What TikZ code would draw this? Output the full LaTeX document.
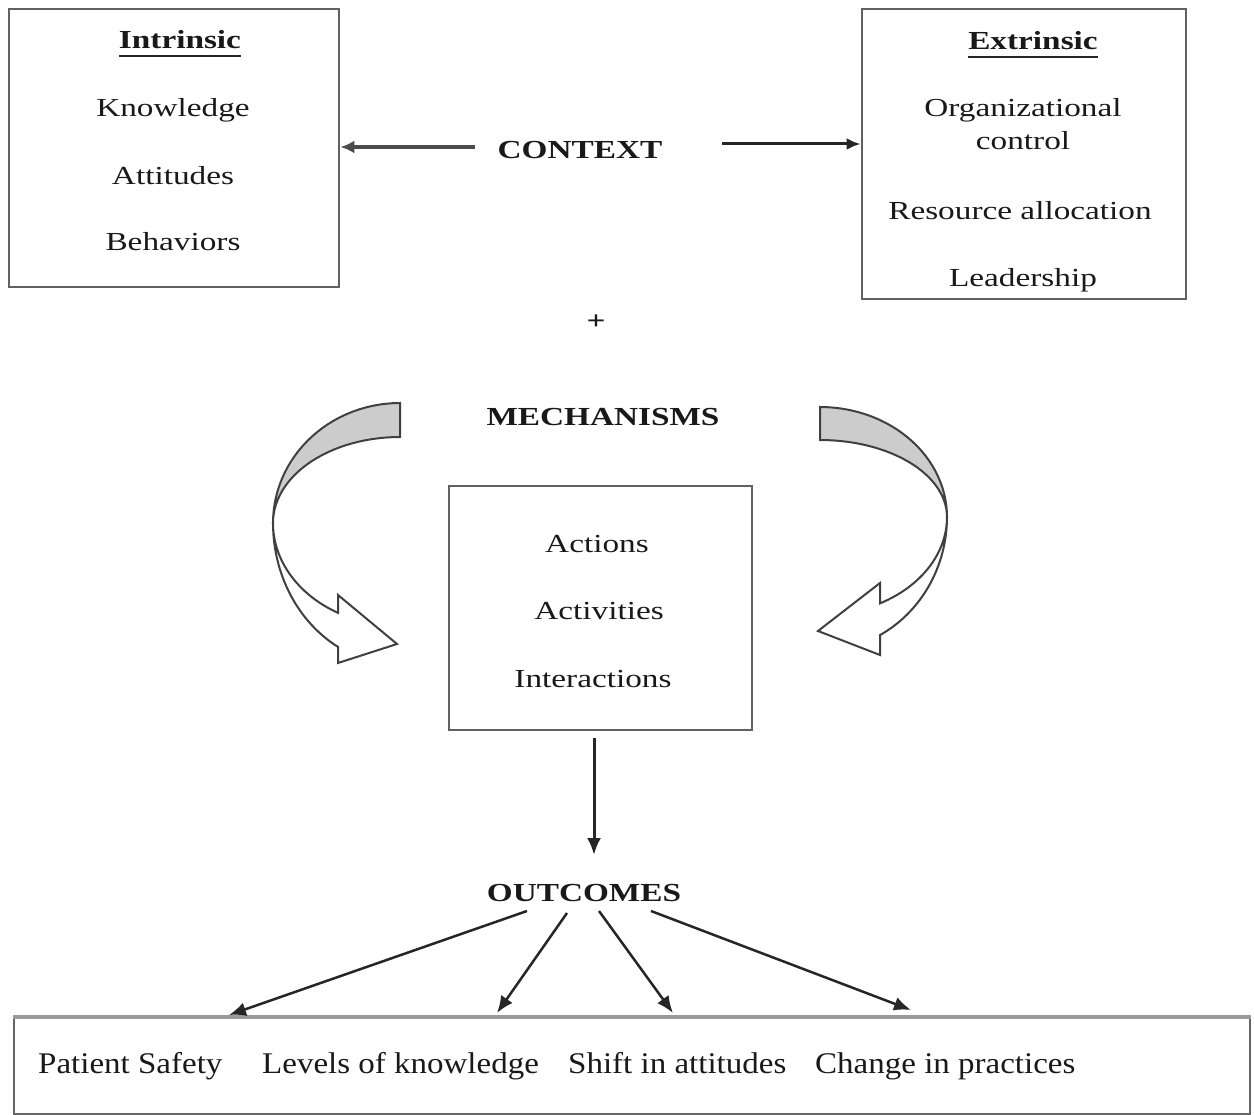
\documentclass[tikz,border=0pt]{standalone}
\usepackage{fontspec}
\setmainfont{Liberation Serif}
\usetikzlibrary{arrows.meta}
\newcommand\wt[1]{\scalebox{1.28}[1]{#1}}
\newcommand\wb[1]{\scalebox{1.1}[1]{#1}}
\begin{document}
\begin{tikzpicture}[x=1pt,y=-1pt,
 box/.style={draw=black!62,line width=2.8pt},
 txt/.style={font=\fontsize{26}{30}\selectfont,text=black!90,inner sep=0pt,anchor=base},
 btxt/.style={font=\fontsize{30}{34}\selectfont,text=black!90,inner sep=0pt,anchor=base west},
 arr/.style={draw=black!85,line width=3pt,-{Latex[length=17pt,width=14pt]}},
 curv/.style={draw=black!75,line width=2pt,line join=miter},
 uline/.style={draw=black!85,line width=2.5pt}
]
\useasboundingbox (0,0) rectangle (1254,1115);
\fill[white] (0,0) rectangle (1254,1115);

% boxes
\node[box,minimum width=330pt,minimum height=278pt] (intr) at (174,148) {};
\node[box,minimum width=324pt,minimum height=290pt] (extr) at (1024,154) {};
\node[box,minimum width=303pt,minimum height=244pt] (mid) at (600.5,608) {};
\node[draw=black!60,line width=2pt,minimum width=1236pt,minimum height=96pt] (bot) at (632,1066) {};
\draw[line width=4pt,black!40] (bot.north west) -- (bot.north east);

% intrinsic
\node[txt] (tin) at (180,49) {\wt{\textbf{Intrinsic}}};
\draw[uline] ([yshift=-7pt]tin.base west) -- ([yshift=-7pt]tin.base east);
\node[txt] (kn) at (173,117) {\wt{Knowledge}};
\node[txt] (att) at (173,185) {\wt{Attitudes}};
\node[txt] (beh) at (173,251) {\wt{Behaviors}};

% extrinsic
\node[txt] (tex) at (1033,50) {\wt{\textbf{Extrinsic}}};
\draw[uline] ([yshift=-7pt]tex.base west) -- ([yshift=-7pt]tex.base east);
\node[txt] (org) at (1023,117) {\wt{Organizational}};
\node[txt] (ctl) at (1023,150) {\wt{control}};
\node[txt] (res) at (1020,220) {\wt{Resource allocation}};
\node[txt] (lea) at (1023,287) {\wt{Leadership}};

% centre labels
\node[txt] (ctx) at (580,159) {\wt{\textbf{CONTEXT}}};
\node[txt] (plus) at (596,330) {\wt{\textbf{+}}};
\node[txt] (mech) at (603,425) {\wt{\textbf{MECHANISMS}}};
\node[txt] (act) at (597,552) {\wt{Actions}};
\node[txt] (acv) at (599,619) {\wt{Activities}};
\node[txt] (inter) at (593,687) {\wt{Interactions}};
\node[txt] (out) at (584,901) {\wt{\textbf{OUTCOMES}}};

% bottom texts
\node[btxt] (b1) at (38,1073) {\wb{Patient Safety}};
\node[btxt] (b2) at (262,1073) {\wb{Levels of knowledge}};
\node[btxt] (b3) at (568,1073) {\wb{Shift in attitudes}};
\node[btxt] (b4) at (815,1073) {\wb{Change in practices}};

% context arrows
\coordinate (cL) at (475,147);
\coordinate (cR) at (722,144);
\draw[arr,line width=4pt,draw=black!70,-{Latex[length=14pt,width=13pt]}] (cL) -- (intr.east |- cL);
\draw[arr,-{Latex[length=14pt,width=12pt]}] (cR) -- (extr.west |- cR);

% down arrow
\coordinate (dS) at (594,738);
\coordinate (dE) at (594,855);
\draw[arr] (dS) -- (dE);

% outcome arrows
\coordinate (o1) at (527,911);
\coordinate (o2) at (567,913);
\coordinate (o3) at (599,911);
\coordinate (o4) at (651,911);
\coordinate (t1) at (229,1015);
\coordinate (t2) at (497,1013);
\coordinate (t3) at (673,1013);
\coordinate (t4) at (911,1010);
\draw[arr,line width=2.5pt] (o1) -- (t1);
\draw[arr,line width=2.5pt] (o2) -- (t2);
\draw[arr,line width=2.5pt] (o3) -- (t3);
\draw[arr,line width=2.5pt] (o4) -- (t4);

% left curved arrow
\draw[curv,fill=white] plot[domain=180:240.8,samples=30] ({400+127*cos(\x)},{523-142*sin(\x)})
  -- (338,663) -- (397,644) -- (338,595)
  -- plot[domain=240.8:180,samples=30] ({400+127*cos(\x)},{523-103*sin(\x)}) -- cycle;
\draw[curv,fill=black!20] plot[domain=90:180,samples=30] ({400+127*cos(\x)},{523-120*sin(\x)})
  -- plot[domain=180:90,samples=30] ({400+127*cos(\x)},{523-86*sin(\x)}) -- cycle;

% right curved arrow
\draw[curv,fill=white] plot[domain=0:-61.8,samples=30] ({820+127*cos(\x)},{517-134*sin(\x)})
  -- (880,655) -- (818,631) -- (880,583)
  -- plot[domain=-61.8:0,samples=30] ({820+127*cos(\x)},{517-98*sin(\x)}) -- cycle;
\draw[curv,fill=black!20] plot[domain=90:0,samples=30] ({820+127*cos(\x)},{517-110*sin(\x)})
  -- plot[domain=0:90,samples=30] ({820+127*cos(\x)},{517-77*sin(\x)}) -- cycle;
\end{tikzpicture}
\end{document}
